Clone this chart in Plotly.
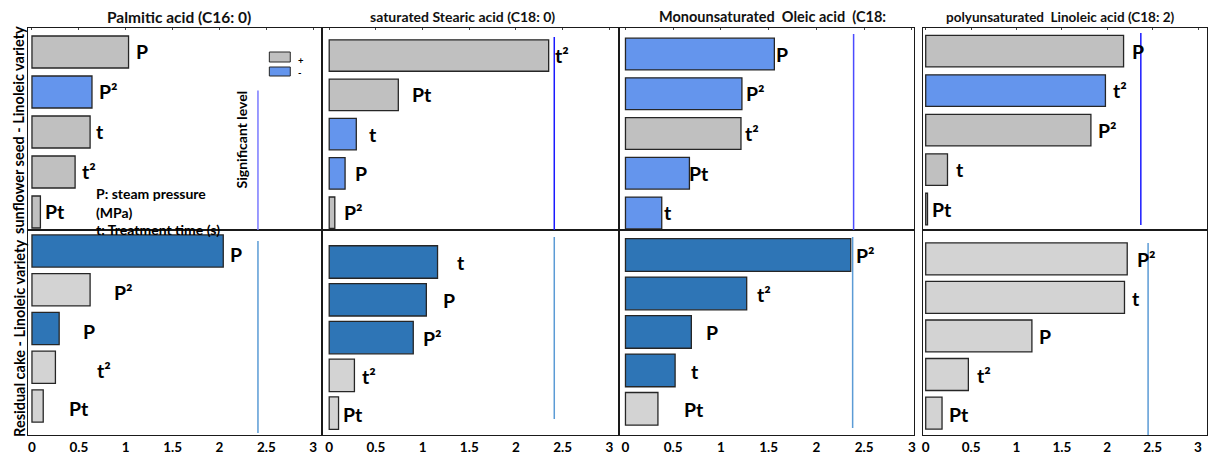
import plotly.graph_objects as go

# ---------------- data ----------------
titles = ["Palmitic acid (C16: 0)", "saturated Stearic acid (C18: 0)",
          "Monounsaturated  Oleic acid  (C18:",
          "polyunsaturated  Linoleic acid (C18: 2)"]
row_labels = ["sunflower seed - Linoleic variety", "Residual cake - Linoleic variety"]

# top row: sunflower seed
seed_terms_1 = ["P", "P²", "t", "t²", "Pt"]
seed_vals_1 = [1.03, 0.64, 0.62, 0.46, 0.09]
seed_sign_1 = ["+", "-", "+", "+", "+"]
seed_terms_2 = ["t²", "Pt", "t", "P", "P²"]
seed_vals_2 = [2.35, 0.74, 0.29, 0.17, 0.06]
seed_sign_2 = ["+", "+", "-", "-", "+"]
seed_terms_3 = ["P", "P²", "t²", "Pt", "t"]
seed_vals_3 = [1.56, 1.22, 1.21, 0.67, 0.38]
seed_sign_3 = ["-", "-", "+", "-", "-"]
seed_terms_4 = ["P", "t²", "P²", "t", "Pt"]
seed_vals_4 = [2.18, 1.98, 1.82, 0.24, 0.02]
seed_sign_4 = ["+", "-", "+", "+", "+"]
seed_sig = [2.41, 2.41, 2.39, 2.37]

# bottom row: residual cake
cake_terms_1 = ["P", "P²", "P", "t²", "Pt"]
cake_vals_1 = [2.04, 0.62, 0.29, 0.25, 0.12]
cake_sign_1 = ["-", "+", "-", "+", "+"]
cake_terms_2 = ["t", "P", "P²", "t²", "Pt"]
cake_vals_2 = [1.16, 1.04, 0.90, 0.27, 0.10]
cake_sign_2 = ["-", "-", "-", "+", "+"]
cake_terms_3 = ["P²", "t²", "P", "t", "Pt"]
cake_vals_3 = [2.36, 1.27, 0.69, 0.52, 0.34]
cake_sign_3 = ["-", "-", "-", "-", "+"]
cake_terms_4 = ["P²", "t", "P", "t²", "Pt"]
cake_vals_4 = [2.22, 2.19, 1.17, 0.47, 0.18]
cake_sign_4 = ["+", "+", "+", "+", "+"]
cake_sig = [2.41, 2.41, 2.38, 2.45]

x_ticks = [0, 0.5, 1, 1.5, 2, 2.5, 3]

# ---------------- layout helpers ----------------
W, H = 1209, 457
FONT = "Lato"
def fx(p): return p / W
def fy(p): return 1 - p / H

col_px = [(27, 322), (322, 620), (620, 915), (924, 1209)]
col_xrange = [(-0.043, 3.095), (-0.075, 3.108), (-0.063, 3.02), (-0.033, 3.099)]
row_px = [(28, 230), (230, 435)]
y_ranges = [[(-0.6, 4.45), (-0.7, 4.44), (-0.655, 4.43), (-0.585, 4.53)],
            [(-0.543, 4.75), (-0.847, 4.58), (-0.65, 4.68), (-0.75, 4.57)]]
bar_w = [[0.8, 0.8, 0.8, 0.8], [0.83, 0.86, 0.85, 0.83]]
label_gap = [[[5, 5, 4, 5, 3], [4, 12, 11, 8, 7], [0, 2, 2, -2, 0], [6, 6, 5, 7, 2]],
             [[5, 22, 22, 40, 24], [17, 15, 8, 6, 2], [3, 8, 13, 14, 24], [8, 6, 5, 7, 5]]]
label_dy = [[0, 0, 0, 0], [-3, -1, -1, -1]]
sig_span = [[(0.0, 0.69), (0.0, 0.955), (0.0, 0.97), (0.025, 0.975)],
            [(0.01, 0.946), (0.078, 0.966), (0.034, 0.966), (0.0, 0.937)]]
sig_color = [["#7a7aff", "#1a1aff", "#4b4bff", "#1a1aff"],
             ["#5b9bd5", "#5b9bd5", "#5b9bd5", "#5b9bd5"]]
pos_col = ["#c0c0c0", "#d3d3d3"]
neg_col = ["#6495ed", "#2e75b6"]
title_cx = [178, 463, 773, 1062]
title_size = [15.5, 14, 14.5, 13.5]

rows = [
    [(seed_terms_1, seed_vals_1, seed_sign_1), (seed_terms_2, seed_vals_2, seed_sign_2),
     (seed_terms_3, seed_vals_3, seed_sign_3), (seed_terms_4, seed_vals_4, seed_sign_4)],
    [(cake_terms_1, cake_vals_1, cake_sign_1), (cake_terms_2, cake_vals_2, cake_sign_2),
     (cake_terms_3, cake_vals_3, cake_sign_3), (cake_terms_4, cake_vals_4, cake_sign_4)],
]
sigs = [seed_sig, cake_sig]

fig = go.Figure()
annotations = []
shapes = []
layout_axes = {}

for r in range(2):
    for c in range(4):
        k = r * 4 + c + 1
        xa = "x" if k == 1 else f"x{k}"
        ya = "y" if k == 1 else f"y{k}"
        terms, vals, signs = rows[r][c]
        colors = [pos_col[r] if s == "+" else neg_col[r] for s in signs]
        ypos = list(range(len(vals)))
        fig.add_trace(go.Bar(
            x=vals, y=ypos, orientation="h", width=bar_w[r][c],
            marker=dict(color=colors, line=dict(color="#262626", width=1.3)),
            xaxis=xa, yaxis=ya, showlegend=False, hoverinfo="skip"))
        for j, (t, v) in enumerate(zip(terms, vals)):
            annotations.append(dict(
                x=v, y=j, xref=xa, yref=ya, text=f"<b>{t}</b>", showarrow=False,
                xanchor="left", yanchor="middle", xshift=label_gap[r][c][j],
                yshift=label_dy[r][c], font=dict(family=FONT, size=19.5, color="black")))
        y0, y1 = sig_span[r][c]
        shapes.append(dict(type="line", xref=xa, yref=f"{ya} domain",
                           x0=sigs[r][c], x1=sigs[r][c], y0=y0, y1=y1,
                           line=dict(color=sig_color[r][c], width=1.5)))
        xd = (fx(col_px[c][0]), fx(col_px[c][1]))
        yd = (fy(row_px[r][1]), fy(row_px[r][0]))
        if r == 0:
            xax = dict(side="top", ticks="inside", ticklen=2, tickcolor="#444",
                       showticklabels=False, mirror=True)
        else:
            xax = dict(side="bottom", ticks="", showticklabels=True, mirror=True)
        layout_axes[f"xaxis{k if k > 1 else ''}"] = dict(
            domain=list(xd), range=list(col_xrange[c]), anchor=ya,
            showgrid=False, zeroline=False, showline=True,
            linecolor="#1a1a1a", linewidth=1.3, tickvals=x_ticks,
            tickfont=dict(family=FONT, size=13.5, color="black", weight="bold"), **xax)
        yr = y_ranges[r][c]
        layout_axes[f"yaxis{k if k > 1 else ''}"] = dict(
            domain=list(yd), range=[yr[1], yr[0]], anchor=xa,
            showgrid=False, zeroline=False, showline=True, mirror=True,
            linecolor="#1a1a1a", linewidth=1.3, showticklabels=False, ticks="")

# titles
for c in range(4):
    annotations.append(dict(x=fx(title_cx[c]), y=fy(17), xref="paper", yref="paper",
                            text=f"<b>{titles[c]}</b>",
                            showarrow=False, xanchor="center", yanchor="middle",
                            font=dict(family=FONT, size=title_size[c], color="#111")))
# row labels
for r, cy in enumerate([130, 338]):
    annotations.append(dict(x=fx(18), y=fy(cy), xref="paper", yref="paper",
                            text=f"<b>{row_labels[r]}</b>", textangle=-90,
                            showarrow=False, xanchor="center", yanchor="middle",
                            font=dict(family=FONT, size=14.5, color="black")))
# significant level
annotations.append(dict(x=fx(241), y=fy(139), xref="paper", yref="paper",
                        text="<b>Significant level</b>", textangle=-90, showarrow=False,
                        xanchor="center", yanchor="middle",
                        font=dict(family=FONT, size=14, color="black")))
# notes
for txt, yy in [("P: steam pressure", 193), ("(MPa)", 212), ("t: Treatment time (s)", 230)]:
    annotations.append(dict(x=fx(93), y=fy(yy), xref="paper", yref="paper",
                            text=f"<b>{txt}</b>", showarrow=False,
                            xanchor="left", yanchor="middle",
                            font=dict(family=FONT, size=14, color="black")))
# legend
shapes.append(dict(type="rect", xref="paper", yref="paper", x0=fx(269), x1=fx(290),
                   y0=fy(62), y1=fy(52), fillcolor=pos_col[0], line=dict(color="#262626", width=1)))
shapes.append(dict(type="rect", xref="paper", yref="paper", x0=fx(269), x1=fx(290),
                   y0=fy(76), y1=fy(67), fillcolor=neg_col[0], line=dict(color="#262626", width=1)))
annotations.append(dict(x=fx(297), y=fy(66), xref="paper", yref="paper",
                        text="<b>+</b><br><b>-</b>", showarrow=False, xanchor="left",
                        yanchor="middle", align="left", borderpad=0,
                        font=dict(family=FONT, size=9.5, color="black")))

fig.update_layout(
    width=W, height=H, margin=dict(l=0, r=0, t=0, b=0),
    paper_bgcolor="white", plot_bgcolor="white",
    annotations=annotations, shapes=shapes, bargap=0.2, **layout_axes)

fig.write_html("out.html", config={"displayModeBar": False},
               post_script="document.body.style.margin='0';document.body.style.overflow='hidden';")
